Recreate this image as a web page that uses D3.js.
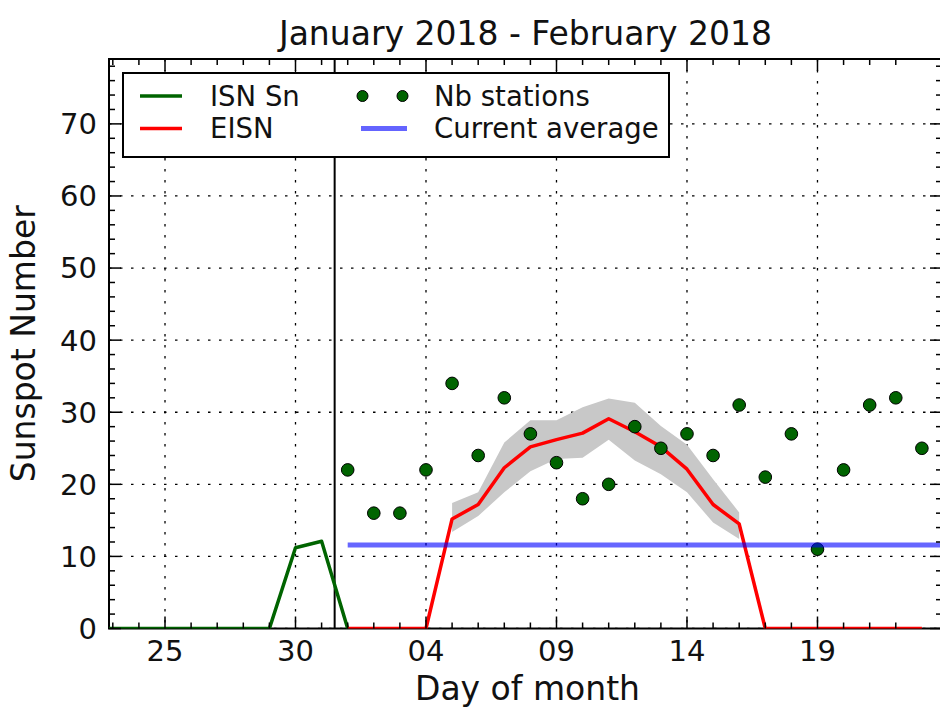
<!DOCTYPE html>
<html>
<head>
<meta charset="utf-8">
<script src="https://cdn.jsdelivr.net/npm/d3@7"></script>
<style>
  html, body { margin: 0; padding: 0; background: #fff; }
  svg { display: block; font-family: "DejaVu Sans", sans-serif; }
</style>
</head>
<body>
<svg id="chart" width="940" height="709"></svg>
<script>
// ---------- data ----------
const titleText = "January 2018 - February 2018";
const xLabel = "Day of month";
const yLabel = "Sunspot Number";

const isnDates = ["2018-01-22","2018-01-23","2018-01-24","2018-01-25","2018-01-26","2018-01-27",
                  "2018-01-28","2018-01-29","2018-01-30","2018-01-31","2018-02-01"];
const isnValues = [0, 0, 0, 0, 0, 0, 0, 0, 11.2, 12.1, 0];

const febDates = ["2018-02-01","2018-02-02","2018-02-03","2018-02-04","2018-02-05","2018-02-06",
                  "2018-02-07","2018-02-08","2018-02-09","2018-02-10","2018-02-11","2018-02-12",
                  "2018-02-13","2018-02-14","2018-02-15","2018-02-16","2018-02-17","2018-02-18",
                  "2018-02-19","2018-02-20","2018-02-21","2018-02-22","2018-02-23"];
const eisnValues = [0, 0, 0, 0, 15.2, 17.2, 22.3, 25.2, 26.2, 27.1, 29.1, 27.3,
                    25.2, 22.1, 17.2, 14.5, 0, 0, 0, 0, 0, 0, 0];
const stationValues = [22, 16, 16, 22, 34, 24, 32, 27, 23, 18, 20, 28,
                       25, 27, 24, 31, 21, 27, 11, 22, 31, 32, 25];

const bandDates = ["2018-02-05","2018-02-06","2018-02-07","2018-02-08","2018-02-09","2018-02-10",
                   "2018-02-11","2018-02-12","2018-02-13","2018-02-14","2018-02-15","2018-02-16"];
const bandUpper = [17.4, 18.9, 25.8, 28.9, 28.9, 30.7, 31.9, 31.3, 28.1, 25.5, 20.7, 16.1];
const bandLower = [13.4, 15.6, 18.9, 21.8, 23.5, 23.7, 26.2, 23.3, 21.4, 18.9, 14.7, 12.4];

const currentAverage = 11.6;
const averageSpan = ["2018-02-01", "2018-02-28"];
const monthBoundary = "2018-01-31T12:00Z";

const xDomain = ["2018-01-22T20:30Z", "2018-02-23T18:30Z"];
const yDomain = [0, 79];
const xMajorTicks = ["2018-01-25","2018-01-30","2018-02-04","2018-02-09","2018-02-14","2018-02-19"];
const xMinorRange = ["2018-01-23", "2018-02-23"];
const yMajorTicks = [0, 10, 20, 30, 40, 50, 60, 70];

const legendItems = [
  {label: "ISN Sn", type: "line", color: "#006400"},
  {label: "EISN", type: "line", color: "#ff0000"},
  {label: "Nb stations", type: "dots", color: "#006400"},
  {label: "Current average", type: "line", color: "#6464ff"}
];

// ---------- layout ----------
const P = {left: 109, right: 942, top: 59, bottom: 628.5};
const parse = s => new Date(s.length === 10 ? s + "T00:00Z" : s);

const svg = d3.select("#chart");
const x = d3.scaleUtc().domain(xDomain.map(parse)).range([P.left, P.right]);
const y = d3.scaleLinear().domain(yDomain).range([P.bottom, P.top]);

svg.append("defs").append("clipPath").attr("id", "clip")
  .append("rect").attr("x", P.left).attr("y", P.top)
  .attr("width", P.right - P.left).attr("height", P.bottom - P.top);

// spines (drawn beneath the data, as in the reference)
svg.append("rect").attr("x", P.left).attr("y", P.top)
  .attr("width", P.right - P.left).attr("height", P.bottom - P.top)
  .attr("fill", "none").attr("stroke", "#000").attr("stroke-width", 2);

const plot = svg.append("g").attr("clip-path", "url(#clip)");

// grid
const gridG = plot.append("g");
gridG.selectAll("line.vg").data(xMajorTicks.map(parse)).join("line")
  .attr("x1", d => x(d)).attr("x2", d => x(d)).attr("y1", P.top).attr("y2", P.bottom)
  .attr("stroke", "#000").attr("stroke-width", 1.3).attr("stroke-dasharray", "2.5,8.5");
gridG.selectAll("line.hg").data(yMajorTicks).join("line")
  .attr("y1", d => y(d)).attr("y2", d => y(d)).attr("x1", P.left).attr("x2", P.right)
  .attr("stroke", "#000").attr("stroke-width", 1.3).attr("stroke-dasharray", "2.5,8.5");

// band
const band = bandDates.map((d, i) => ({d: parse(d), hi: bandUpper[i], lo: bandLower[i]}));
plot.append("path").datum(band)
  .attr("d", d3.area().x(d => x(d.d)).y0(d => y(d.lo)).y1(d => y(d.hi)))
  .attr("fill", "#c8c8c8").attr("stroke", "none");

// month boundary line
plot.append("line")
  .attr("x1", x(parse(monthBoundary))).attr("x2", x(parse(monthBoundary)))
  .attr("y1", P.top).attr("y2", P.bottom)
  .attr("stroke", "#000").attr("stroke-width", 2);

// ISN line
const isn = isnDates.map((d, i) => ({d: parse(d), v: isnValues[i]}));
plot.append("path").datum(isn)
  .attr("d", d3.line().x(d => x(d.d)).y(d => y(d.v)))
  .attr("fill", "none").attr("stroke", "#006400").attr("stroke-width", 3.5)
  .attr("stroke-linejoin", "round");

// EISN line
const eisn = febDates.map((d, i) => ({d: parse(d), v: eisnValues[i]}));
plot.append("path").datum(eisn)
  .attr("d", d3.line().x(d => x(d.d)).y(d => y(d.v)))
  .attr("fill", "none").attr("stroke", "#ff0000").attr("stroke-width", 3.5)
  .attr("stroke-linejoin", "round");

// stations dots
plot.selectAll("circle.st").data(febDates.map((d, i) => ({d: parse(d), v: stationValues[i]})))
  .join("circle")
  .attr("cx", d => x(d.d)).attr("cy", d => y(d.v)).attr("r", 6.3)
  .attr("fill", "#006400").attr("stroke", "#000").attr("stroke-width", 1);

// current average
plot.append("line")
  .attr("x1", x(parse(averageSpan[0]))).attr("x2", x(parse(averageSpan[1])))
  .attr("y1", y(currentAverage)).attr("y2", y(currentAverage))
  .attr("stroke", "#0000ff").attr("stroke-opacity", 0.6).attr("stroke-width", 5);

// ticks (inward, all sides)
const tickG = svg.append("g").attr("stroke", "#000").attr("stroke-width", 1.5);
const minorDays = d3.utcDay.range(parse(xMinorRange[0]), parse(xMinorRange[1]));
const majorSet = new Set(xMajorTicks.map(s => +parse(s)));
minorDays.forEach(d => {
  const len = majorSet.has(+d) ? 12 : 6;
  const xx = x(d);
  tickG.append("line").attr("x1", xx).attr("x2", xx).attr("y1", P.bottom).attr("y2", P.bottom - len);
  tickG.append("line").attr("x1", xx).attr("x2", xx).attr("y1", P.top).attr("y2", P.top + len);
});
d3.range(0, yDomain[1] + 0.001, 2).forEach(v => {
  const len = (v % 10 === 0) ? 12 : 6;
  const yy = y(v);
  tickG.append("line").attr("x1", P.left).attr("x2", P.left + len).attr("y1", yy).attr("y2", yy);
  tickG.append("line").attr("x1", P.right).attr("x2", P.right - len).attr("y1", yy).attr("y2", yy);
});

// tick labels
const fmt = d3.utcFormat("%d");
svg.append("g").selectAll("text").data(xMajorTicks.map(parse)).join("text")
  .attr("x", d => x(d)).attr("y", 661).attr("text-anchor", "middle")
  .attr("font-size", 29).attr("fill", "#111").text(d => fmt(d));
svg.append("g").selectAll("text").data(yMajorTicks).join("text")
  .attr("x", 97).attr("y", d => y(d)).attr("dy", "0.36em").attr("text-anchor", "end")
  .attr("font-size", 29).attr("fill", "#111").text(d => d);

// title & labels
svg.append("text").attr("x", (P.left + P.right) / 2).attr("y", 45).attr("text-anchor", "middle")
  .attr("font-size", 33).attr("fill", "#111").text(titleText);
svg.append("text").attr("x", (P.left + P.right) / 2 + 2).attr("y", 700).attr("text-anchor", "middle")
  .attr("font-size", 33).attr("fill", "#111").text(xLabel);
svg.append("text").attr("transform", `translate(35,${(P.top + P.bottom) / 2}) rotate(-90)`)
  .attr("text-anchor", "middle").attr("font-size", 33).attr("fill", "#111").text(yLabel);

// legend
const lg = svg.append("g");
lg.append("rect").attr("x", 123).attr("y", 73).attr("width", 546).attr("height", 84)
  .attr("fill", "#fff").attr("stroke", "#000").attr("stroke-width", 2);
const cols = [{lx0: 140, lx1: 182, tx: 210}, {lx0: 361, lx1: 407, tx: 434}];
const rows = [96, 128.5];
legendItems.forEach((it, i) => {
  const c = cols[Math.floor(i / 2)], ry = rows[i % 2];
  if (it.type === "line") {
    const isAvg = it.label === "Current average";
    lg.append("line").attr("x1", c.lx0).attr("x2", c.lx1).attr("y1", ry).attr("y2", ry)
      .attr("stroke", it.color).attr("stroke-width", isAvg ? 5 : 3.5);
  } else {
    [c.lx0 + 1.5, c.lx1 - 4.5].forEach(cx => {
      lg.append("circle").attr("cx", cx).attr("cy", ry).attr("r", 5.5)
        .attr("fill", it.color).attr("stroke", "#000").attr("stroke-width", 1);
    });
  }
  lg.append("text").attr("x", c.tx).attr("y", ry).attr("dy", "0.36em")
    .attr("font-size", 27.5).attr("fill", "#111").text(it.label);
});
</script>
</body>
</html>
